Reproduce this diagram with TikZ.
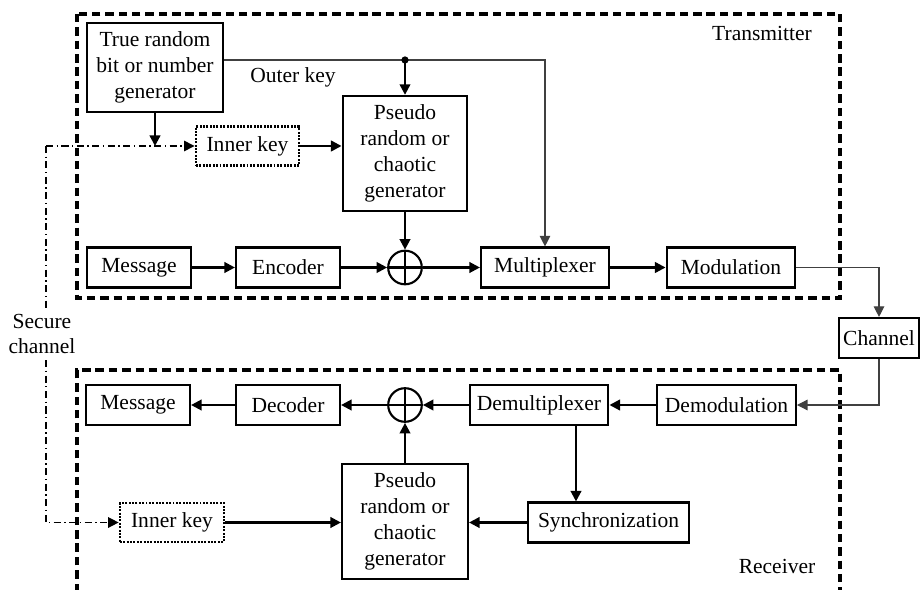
\documentclass[tikz,border=0pt]{standalone}
\usepackage{fontspec}
\setmainfont{Liberation Serif}
\usetikzlibrary{arrows.meta,calc}
\tikzset{
    blk/.style={draw, line width=1.5pt, minimum height=1cm, inner sep=1pt, align=center},
    keybox/.style={blk, dash pattern=on 1.4pt off 1pt, line width=1.9pt},
    xor/.style={draw, circle, line width=1.5pt, minimum size=0.84cm, inner sep=0pt,
        path picture={
            \draw[line width=2pt]
            (path picture bounding box.north) -- (path picture bounding box.south)
            (path picture bounding box.west) -- (path picture bounding box.east);
        }
    },
    arr/.style={line width=1.6pt, -{Triangle[length=7.5pt,width=7.5pt]}},
    thinarr/.style={line width=0.8pt, black!75, -{Triangle[length=7.5pt,width=7.5pt]}},
    secure/.style={line width=1pt, dash pattern=on 5pt off 2.5pt on 1pt off 2.5pt},
    group/.style={line width=2.3pt, dash pattern=on 6pt off 3.5pt}
}

\begin{document}
\begin{tikzpicture}[x=0.025cm, y=-0.025cm, font=\fontsize{15.3}{18.4}\selectfont]
    \useasboundingbox (0,0) rectangle (920,590);
    % transmitter and receiver frames
    \draw[group] (77,14) rectangle (840,298);
    \draw[group] (77,592) |- (840,370) -- (840,592);
    \node at (762,33) {Transmitter};
    \node at (777,566) {Receiver};

    % transmitter
    \node[blk, minimum width=3.4cm, minimum height=2.22cm] (trng) at (155,67.5) {True random\\bit or number\\generator};
    \node[blk, minimum width=3.12cm, minimum height=2.88cm] (pseudoT) at (405,153.5) {Pseudo\\random or\\chaotic\\generator};
    \node[keybox, minimum width=2.58cm, minimum height=0.97cm] (innerT) at (247.5,146) {Inner key};
    \node (outer) at (293,77) {Outer key};
    \node[blk, minimum width=2.6cm] (msgT) at (139,267.5) {Message};
    \node[blk, minimum width=2.6cm] (enc) at (288,267.5) {Encoder};
    \node[xor] (xorT) at (405,267.5) {};
    \node[blk, minimum width=3.2cm] (mux) at (545,267.5) {Multiplexer};
    \node[blk, minimum width=3.22cm] (mod) at (731,267.5) {Modulation};
    \node[blk, minimum width=2cm] (chan) at (879,338) {Channel};

    % receiver
    \node[blk, minimum width=3.47cm] (demod) at (726.5,405) {Demodulation};
    \node[blk, minimum width=3.47cm] (demux) at (539,405) {Demultiplexer};
    \node[xor] (xorR) at (405,405) {};
    \node[blk, minimum width=2.6cm] (dec) at (288,405) {Decoder};
    \node[blk, minimum width=2.6cm] (msgR) at (138,405) {Message};
    \node[blk, minimum width=3.15cm, minimum height=2.88cm] (pseudoR) at (405,521.5) {Pseudo\\random or\\chaotic\\generator};
    \node[blk, minimum width=4.03cm] (sync) at (608.5,522.5) {Synchronization};
    \node[keybox, minimum width=2.6cm, minimum height=0.97cm] (innerR) at (172,522.5) {Inner key};
    \node[align=center, inner sep=4pt] (secure) at (42,334) {Secure\\channel};

    \coordinate (dot) at (405,60);
    \coordinate (tap) at (576,405);
    \coordinate (sc1) at (46,146);
    \coordinate (sc2) at (46,522.5);

    % outer key path
    \draw[thinarr] (trng.east |- dot) -- (dot) -| (mux.north);
    \fill (dot) circle (2.6pt);
    \draw[arr] (dot) -- (pseudoT.north);
    \draw[arr] (trng.south) -- (trng.south |- sc1);

    % secure channel
    \draw[secure, -{Triangle[length=7.5pt,width=7.5pt]}] (sc1) -- (innerT.west);
    \draw[secure] (sc1) -- (sc1 |- secure.north);
    \draw[secure, -{Triangle[length=7.5pt,width=7.5pt]}] (sc1 |- secure.south) -- (sc2) -- (innerR.west);

    \draw[arr] (innerT) -- (pseudoT.west |- innerT);
    \draw[arr] (pseudoT.south) -- (xorT.north);
    \draw[arr] (msgT) -- (enc);
    \draw[arr] (enc) -- (xorT);
    \draw[arr] (xorT) -- (mux);
    \draw[arr] (mux) -- (mod);
    \draw[thinarr] (mod.east) -| (chan.north);
    \draw[thinarr] (chan.south) |- (demod.east);

    \draw[arr] (demod) -- (demux);
    \draw[arr] (demux) -- (xorR);
    \draw[arr] (xorR) -- (dec);
    \draw[arr] (dec) -- (msgR);
    \draw[arr] (pseudoR.north) -- (xorR.south);
    \draw[arr] (tap |- demux.south) -- (tap |- sync.north);
    \draw[arr] (sync) -- (pseudoR.east |- sync);
    \draw[arr] (innerR) -- (pseudoR.west |- innerR);
\end{tikzpicture}
\end{document}
